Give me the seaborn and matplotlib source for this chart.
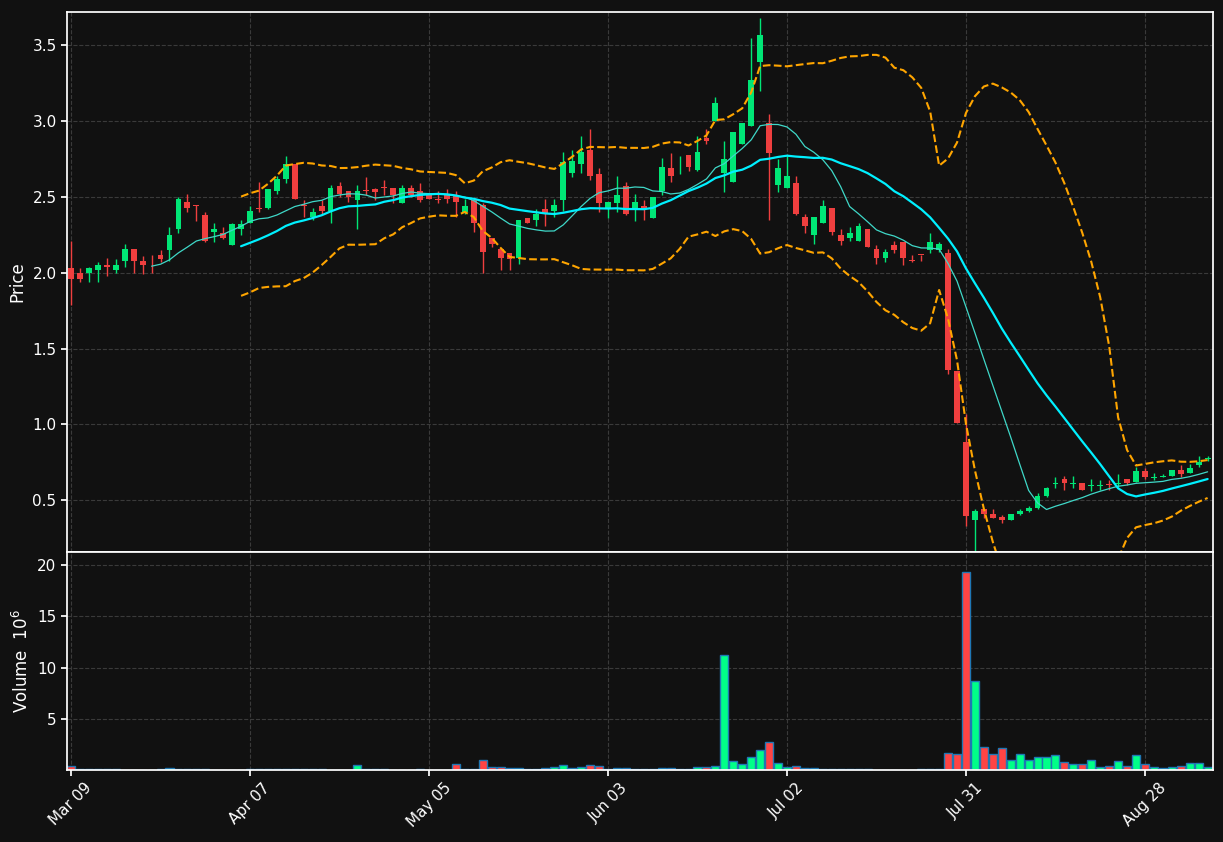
import numpy as np
import pandas as pd
import matplotlib
matplotlib.use("Agg")
import matplotlib.pyplot as plt
import seaborn as sns

# OHLC (um candle por pregão)
abertura = [2.03, 2.00, 2.00, 2.02, 2.05, 2.02, 2.08, 2.16, 2.08, 2.06,
            2.12, 2.15, 2.29, 2.47, 2.445, 2.38, 2.27, 2.26, 2.18, 2.29,
            2.33, 2.43, 2.43, 2.54, 2.62, 2.72, 2.445, 2.37, 2.44, 2.41,
            2.57, 2.54, 2.48, 2.545, 2.55, 2.565, 2.56, 2.46, 2.56, 2.54,
            2.51, 2.49, 2.51, 2.51, 2.40, 2.48, 2.45, 2.23, 2.16, 2.13,
            2.10, 2.36, 2.35, 2.42, 2.41, 2.48, 2.66, 2.72, 2.81, 2.65,
            2.43, 2.46, 2.57, 2.43, 2.44, 2.36, 2.54, 2.69, 2.695, 2.78,
            2.68, 2.89, 3.00, 2.66, 2.60, 2.85, 2.97, 3.39, 2.99, 2.58,
            2.56, 2.59, 2.37, 2.25, 2.33, 2.43, 2.25, 2.23, 2.21, 2.29,
            2.16, 2.10, 2.18, 2.20, 2.085, 2.125, 2.15, 2.15, 2.13, 1.35,
            0.885, 0.37, 0.44, 0.41, 0.39, 0.37, 0.41, 0.43, 0.45, 0.53,
            0.605, 0.64, 0.605, 0.61, 0.595, 0.595, 0.605, 0.605, 0.64, 0.62,
            0.69, 0.645, 0.655, 0.66, 0.70, 0.68, 0.73, 0.77]
fechamento = [1.96, 1.96, 2.03, 2.05, 2.04, 2.05, 2.16, 2.08, 2.05, 2.055,
              2.09, 2.25, 2.49, 2.43, 2.44, 2.21, 2.29, 2.23, 2.32, 2.32,
              2.41, 2.42, 2.55, 2.62, 2.72, 2.49, 2.44, 2.40, 2.41, 2.56,
              2.52, 2.50, 2.54, 2.54, 2.53, 2.56, 2.51, 2.56, 2.51, 2.48,
              2.49, 2.48, 2.49, 2.47, 2.44, 2.33, 2.14, 2.19, 2.10, 2.09,
              2.35, 2.33, 2.39, 2.39, 2.45, 2.73, 2.74, 2.80, 2.64, 2.46,
              2.47, 2.51, 2.39, 2.47, 2.42, 2.50, 2.70, 2.64, 2.70, 2.70,
              2.80, 2.87, 3.12, 2.75, 2.93, 2.99, 3.27, 3.57, 2.79, 2.69,
              2.64, 2.39, 2.31, 2.37, 2.44, 2.27, 2.21, 2.26, 2.31, 2.17,
              2.10, 2.14, 2.15, 2.10, 2.08, 2.12, 2.20, 2.19, 1.36, 1.01,
              0.395, 0.43, 0.41, 0.38, 0.37, 0.41, 0.43, 0.45, 0.53, 0.58,
              0.61, 0.61, 0.61, 0.57, 0.60, 0.60, 0.60, 0.61, 0.61, 0.69,
              0.65, 0.65, 0.66, 0.70, 0.67, 0.71, 0.75, 0.78]
maxima = [2.21, 2.03, 2.04, 2.07, 2.10, 2.09, 2.19, 2.16, 2.11, 2.12,
          2.15, 2.30, 2.50, 2.52, 2.445, 2.40, 2.33, 2.30, 2.33, 2.35,
          2.44, 2.60, 2.55, 2.64, 2.77, 2.72, 2.48, 2.43, 2.48, 2.58,
          2.60, 2.54, 2.58, 2.63, 2.56, 2.61, 2.56, 2.58, 2.58, 2.59,
          2.51, 2.54, 2.55, 2.54, 2.49, 2.48, 2.46, 2.23, 2.16, 2.13,
          2.35, 2.36, 2.42, 2.49, 2.49, 2.80, 2.81, 2.90, 2.95, 2.69,
          2.47, 2.64, 2.60, 2.52, 2.48, 2.50, 2.76, 2.79, 2.77, 2.78,
          2.90, 2.95, 3.16, 2.87, 2.93, 2.99, 3.55, 3.68, 3.05, 2.75,
          2.77, 2.64, 2.39, 2.37, 2.48, 2.43, 2.29, 2.30, 2.33, 2.29,
          2.18, 2.16, 2.21, 2.20, 2.12, 2.12, 2.26, 2.20, 2.16, 1.35,
          1.07, 0.44, 0.44, 0.44, 0.40, 0.41, 0.44, 0.46, 0.55, 0.59,
          0.65, 0.66, 0.66, 0.61, 0.64, 0.63, 0.63, 0.67, 0.64, 0.72,
          0.71, 0.68, 0.67, 0.70, 0.73, 0.74, 0.79, 0.79]
minima = [1.79, 1.94, 1.94, 1.94, 1.98, 2.00, 2.04, 2.00, 1.99, 2.00,
          2.07, 2.08, 2.26, 2.40, 2.34, 2.20, 2.20, 2.22, 2.18, 2.25,
          2.33, 2.40, 2.42, 2.52, 2.59, 2.49, 2.37, 2.35, 2.39, 2.33,
          2.50, 2.47, 2.29, 2.51, 2.48, 2.51, 2.46, 2.46, 2.50, 2.47,
          2.49, 2.46, 2.46, 2.37, 2.39, 2.27, 2.00, 2.17, 2.02, 2.02,
          2.06, 2.33, 2.31, 2.31, 2.37, 2.41, 2.63, 2.66, 2.61, 2.40,
          2.36, 2.40, 2.38, 2.34, 2.35, 2.36, 2.51, 2.60, 2.65, 2.67,
          2.67, 2.85, 3.00, 2.53, 2.60, 2.85, 2.97, 3.20, 2.35, 2.53,
          2.56, 2.38, 2.26, 2.19, 2.33, 2.25, 2.18, 2.21, 2.21, 2.17,
          2.06, 2.07, 2.13, 2.05, 2.07, 2.08, 2.13, 2.14, 1.33, 1.01,
          0.33, 0.14, 0.38, 0.38, 0.35, 0.37, 0.40, 0.42, 0.44, 0.52,
          0.58, 0.57, 0.58, 0.57, 0.56, 0.57, 0.57, 0.59, 0.60, 0.62,
          0.64, 0.63, 0.65, 0.66, 0.65, 0.68, 0.72, 0.76]
# volume em milhões
volume = [0.36, 0.08, 0.08, 0.08, 0.08, 0.08, 0.03, 0.03, 0.03, 0.03,
          0.08, 0.2, 0.12, 0.05, 0.1, 0.05, 0.03, 0.03, 0.03, 0.03,
          0.05, 0.05, 0.1, 0.08, 0.08, 0.08, 0.08, 0.08, 0.08, 0.03,
          0.03, 0.03, 0.5, 0.08, 0.08, 0.08, 0.03, 0.03, 0.03, 0.1,
          0.03, 0.03, 0.03, 0.6, 0.08, 0.08, 1.0, 0.3, 0.3, 0.15,
          0.2, 0.08, 0.08, 0.2, 0.3, 0.5, 0.2, 0.3, 0.5, 0.4,
          0.08, 0.2, 0.2, 0.05, 0.05, 0.05, 0.2, 0.2, 0.05, 0.05,
          0.3, 0.3, 0.4, 11.2, 0.9, 0.6, 1.3, 2.0, 2.75, 0.7,
          0.3, 0.4, 0.2, 0.2, 0.05, 0.05, 0.05, 0.05, 0.05, 0.05,
          0.03, 0.03, 0.03, 0.03, 0.03, 0.05, 0.05, 0.05, 1.67, 1.57,
          19.3, 8.7, 2.25, 1.57, 2.15, 1.0, 1.57, 1.0, 1.3, 1.3,
          1.47, 0.8, 0.6, 0.6, 1.0, 0.3, 0.4, 0.9, 0.4, 1.47,
          0.6, 0.3, 0.2, 0.3, 0.4, 0.7, 0.7, 0.3]
posicoes_ticks = [0, 20, 40, 60, 80, 100, 120]
rotulos_ticks = ["Mar 09", "Apr 07", "May 05", "Jun 03", "Jul 02", "Jul 31", "Aug 28"]

df = pd.DataFrame({"open": abertura, "close": fechamento, "high": maxima,
                   "low": minima, "volume": volume})
df["idx"] = np.arange(len(df))
df["ma10"] = df["close"].rolling(10).mean()
df["ma20"] = df["close"].rolling(20).mean()
desvio = df["close"].rolling(20).std()
df["upper"] = df["ma20"] + 2 * desvio
df["lower"] = df["ma20"] - 2 * desvio

verde = "#00e676"
vermelho = "#ef3f3f"
fundo = "#111111"
sobe = df["close"] >= df["open"]
cores = np.where(sobe, verde, vermelho)
cores_vol = np.where(sobe, "#00ff88", "#ff4444")

sns.set_theme(style="dark")
plt.rcParams.update({
    "figure.facecolor": fundo, "axes.facecolor": fundo, "axes.edgecolor": "white",
    "text.color": "white", "axes.labelcolor": "white",
    "xtick.color": "white", "ytick.color": "white",
})
plt.rcParams["font.family"] = ["DejaVu Sans"]

fig = plt.figure(figsize=(12.23, 8.42), dpi=100)
ax = fig.add_axes([0.0548, 0.3444, 0.937, 0.6413])
axv = fig.add_axes([0.0548, 0.0855, 0.937, 0.2589], sharex=ax)

# candles
ax.vlines(df["idx"], df["low"], df["high"], colors=cores, linewidth=1)
altura = (df["close"] - df["open"]).abs().clip(lower=0.006)
base = df[["open", "close"]].min(axis=1)
ax.bar(df["idx"], altura, bottom=base, width=0.65, color=cores, linewidth=0)

sns.lineplot(data=df, x="idx", y="ma10", ax=ax, color="#3fd8c8", linewidth=0.9)
sns.lineplot(data=df, x="idx", y="ma20", ax=ax, color="#00f0ff", linewidth=1.6)
for col in ["upper", "lower"]:
    sns.lineplot(data=df, x="idx", y=col, ax=ax, color="orange",
                 linewidth=1.5, dashes=(3, 2), linestyle="--")

ax.set_ylim(0.158, 3.72)
ax.set_xlim(-0.45, 127.6)
ax.set_ylabel("Price")
ax.set_xlabel("")
ax.grid(True, color="#3a3a3a", linestyle="--", linewidth=0.8)
ax.tick_params(axis="x", labelbottom=False, length=0)
ax.tick_params(axis="y", left=True, length=4)

axv.bar(df["idx"], df["volume"], width=0.9, color=cores_vol,
        edgecolor="#1f77b4", linewidth=1)
axv.set_ylim(0, 21.3)
axv.set_yticks([5, 10, 15, 20])
axv.set_ylabel("Volume  $10^{6}$")
axv.set_xticks(posicoes_ticks)
axv.set_xticklabels(rotulos_ticks, rotation=45, ha="center")
axv.tick_params(axis="both", bottom=True, left=True, length=4)
axv.grid(True, color="#3a3a3a", linestyle="--", linewidth=0.8)
for a in (ax, axv):
    for s in a.spines.values():
        s.set_color("white")

fig.savefig("out.png", dpi=100, facecolor=fundo)
